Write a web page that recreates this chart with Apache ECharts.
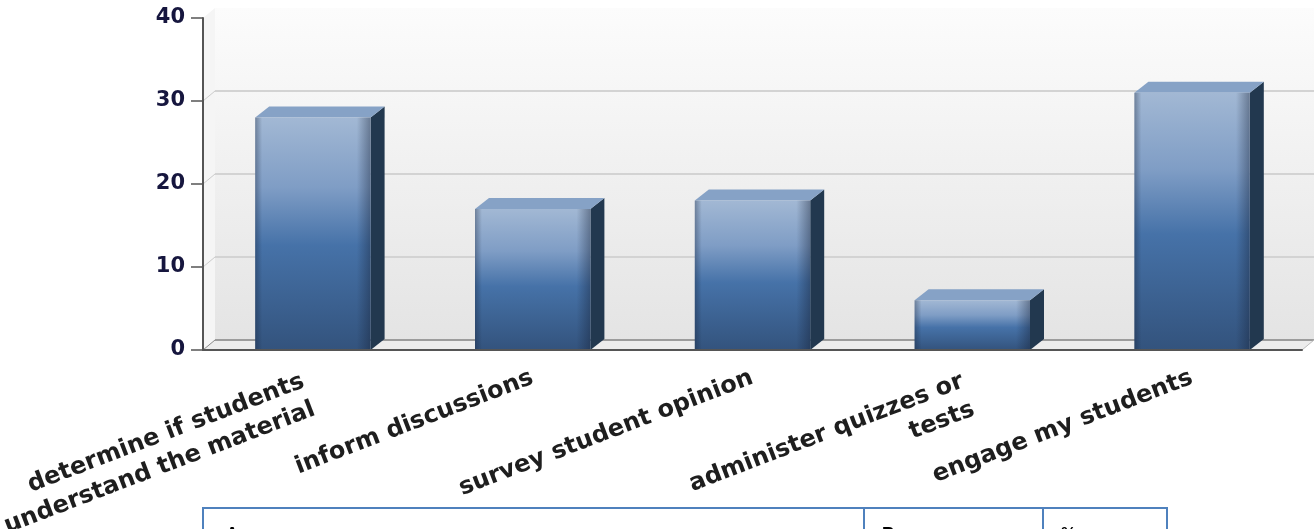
<!DOCTYPE html>
<html>
<head>
<meta charset="utf-8">
<script src="https://cdn.jsdelivr.net/npm/echarts@6/dist/echarts.min.js"></script>
<style>
  html, body { margin: 0; padding: 0; background: #fff; }
  #main { width: 1314px; height: 529px; }
</style>
</head>
<body>
<div id="main"></div>
<script>
// 数据
var categories = [
  'determine if students\nunderstand the material',
  'inform discussions',
  'survey student opinion',
  'administer quizzes or\ntests',
  'engage my students'
];
var values = [28, 17, 18, 6, 31];
var yTicks = [0, 10, 20, 30, 40];
var tableHeaders = ['Answer', 'Response', '%'];

var chart = echarts.init(document.getElementById('main'));

// 墙体的透视偏移
var WALL_DX = 12, WALL_DY = 10;
// 柱子的厚度
var BAR_DX = 14, BAR_DY = 11;

function renderWall(params, api) {
  var cs = params.coordSys;
  var v = api.value(1);
  var y = api.coord([0, v])[1];
  var x0 = cs.x, x1 = cs.x + cs.width, yt = cs.y, yb = cs.y + cs.height;
  var children = [];
  if (params.dataIndex === 0) {
    // 背板
    children.push({
      type: 'rect',
      shape: { x: x0 + WALL_DX, y: yt - WALL_DY, width: cs.width, height: cs.height },
      style: {
        fill: new echarts.graphic.LinearGradient(0, 0, 0, 1, [
          { offset: 0, color: '#fcfcfc' },
          { offset: 1, color: '#e4e4e4' }
        ])
      }
    });
    // 左墙
    children.push({
      type: 'polygon',
      shape: { points: [[x0, yt], [x0 + WALL_DX, yt - WALL_DY], [x0 + WALL_DX, yb - WALL_DY], [x0, yb]] },
      style: { fill: '#f5f5f5' }
    });
    // 地板
    children.push({
      type: 'polygon',
      shape: { points: [[x0, yb], [x0 + WALL_DX, yb - WALL_DY], [x1 + WALL_DX, yb - WALL_DY], [x1, yb]] },
      style: { fill: '#ececec' }
    });
    children.push({
      type: 'line',
      shape: { x1: x0 + WALL_DX, y1: yb - WALL_DY, x2: x1 + WALL_DX, y2: yb - WALL_DY },
      style: { stroke: '#9c9c9c', lineWidth: 2 }
    });
    children.push({
      type: 'line',
      shape: { x1: x0, y1: yb, x2: x0 + WALL_DX, y2: yb - WALL_DY },
      style: { stroke: '#888', lineWidth: 1 }
    });
    children.push({
      type: 'line',
      shape: { x1: x1, y1: yb, x2: x1 + WALL_DX, y2: yb - WALL_DY },
      style: { stroke: '#bbb', lineWidth: 1 }
    });
  } else if (v < yTicks[yTicks.length - 1]) {
    // 背板网格线
    children.push({
      type: 'line',
      shape: { x1: x0 + WALL_DX, y1: y - WALL_DY, x2: x1 + WALL_DX, y2: y - WALL_DY },
      style: { stroke: '#d3d3d3', lineWidth: 2 }
    });
    children.push({
      type: 'line',
      shape: { x1: x0, y1: y, x2: x0 + WALL_DX, y2: y - WALL_DY },
      style: { stroke: '#cccccc', lineWidth: 1 }
    });
  }
  return { type: 'group', children: children };
}

function renderBar(params, api) {
  var top = api.coord([api.value(0), api.value(1)]);
  var base = api.coord([api.value(0), 0]);
  var w = api.size([1, 0])[0] * 0.525;
  var x = top[0] - w / 2, y = top[1], yb = base[1], h = yb - y;
  return {
    type: 'group',
    children: [
      { // 侧面
        type: 'polygon',
        shape: { points: [[x + w, y], [x + w + BAR_DX, y - BAR_DY], [x + w + BAR_DX, yb - BAR_DY], [x + w, yb]] },
        style: { fill: '#22384f' }
      },
      { // 顶面
        type: 'polygon',
        shape: { points: [[x, y], [x + BAR_DX, y - BAR_DY], [x + w + BAR_DX, y - BAR_DY], [x + w, y]] },
        style: { fill: '#86a2c6' }
      },
      { // 正面
        type: 'rect',
        shape: { x: x, y: y, width: w, height: h },
        style: {
          fill: new echarts.graphic.LinearGradient(0, 0, 0, 1, [
            { offset: 0, color: '#a2b8d4' },
            { offset: 0.3, color: '#7f9dc5' },
            { offset: 0.55, color: '#4672a8' },
            { offset: 1, color: '#33537d' }
          ])
        }
      },
      { // 边缘阴影
        type: 'rect',
        shape: { x: x, y: y, width: w, height: h },
        style: {
          fill: new echarts.graphic.LinearGradient(0, 0, 1, 0, [
            { offset: 0, color: 'rgba(20,30,50,0.35)' },
            { offset: 0.06, color: 'rgba(20,30,50,0)' },
            { offset: 0.88, color: 'rgba(20,30,50,0)' },
            { offset: 1, color: 'rgba(20,30,50,0.4)' }
          ])
        }
      }
    ]
  };
}

var labelFont = { fontFamily: 'DejaVu Sans', fontWeight: 'bold', fontSize: 24, color: '#1e1e1e', lineHeight: 30 };

chart.setOption({
  animation: false,
  grid: { left: 203, right: 12, top: 18, bottom: 179, outerBoundsMode: 'none', containLabel: false },
  xAxis: {
    type: 'category',
    data: categories,
    z: 5,
    axisLine: { lineStyle: { color: '#555', width: 2 } },
    axisTick: { alignWithLabel: true, length: 8, lineStyle: { color: '#555', width: 1.5 } },
    axisLabel: Object.assign({
      interval: 0,
      rotate: 21,
      margin: 11,
      verticalAlign: 'top',
      formatter: function (v) {
        var lines = v.split('\n');
        var tag = lines.length === 1 ? 's' : 'm';
        return lines.map(function (l) { return '{' + tag + '|' + l + '}'; }).join('\n');
      },
      rich: {
        s: Object.assign({ align: 'right', padding: [0, 6, 0, 0] }, labelFont),
        m: Object.assign({ align: 'right', padding: [0, 16, 0, 0] }, labelFont)
      }
    }, labelFont)
  },
  yAxis: {
    type: 'value',
    min: 0,
    max: 40,
    interval: 10,
    z: 5,
    axisLine: { show: true, lineStyle: { color: '#555', width: 2 } },
    axisTick: { show: true, length: 12, lineStyle: { color: '#555', width: 1.5 } },
    splitLine: { show: false },
    axisLabel: {
      fontFamily: 'DejaVu Sans',
      fontWeight: 'bold',
      fontSize: 21,
      color: '#16163e',
      margin: 18
    }
  },
  series: [
    {
      type: 'custom',
      z: 1,
      renderItem: renderWall,
      encode: { x: 0, y: 1 },
      data: yTicks.map(function (v) { return [0, v]; })
    },
    {
      type: 'custom',
      z: 2,
      renderItem: renderBar,
      encode: { x: 0, y: 1 },
      data: values.map(function (v, i) { return [i, v]; })
    }
  ],
  graphic: [
    { type: 'rect', shape: { x: 203, y: 508, width: 964, height: 60 }, style: { fill: 'none', stroke: '#4f81bd', lineWidth: 2 } },
    { type: 'line', shape: { x1: 864, y1: 508, x2: 864, y2: 560 }, style: { stroke: '#4f81bd', lineWidth: 2 } },
    { type: 'line', shape: { x1: 1043, y1: 508, x2: 1043, y2: 560 }, style: { stroke: '#4f81bd', lineWidth: 2 } },
    { type: 'text', x: 226, y: 526, style: { text: tableHeaders[0], font: 'bold 17px "Liberation Sans"', fill: '#000' } },
    { type: 'text', x: 882, y: 526, style: { text: tableHeaders[1], font: 'bold 17px "Liberation Sans"', fill: '#000' } },
    { type: 'text', x: 1061, y: 526, style: { text: tableHeaders[2], font: 'bold 17px "Liberation Sans"', fill: '#000' } }
  ]
});
</script>
</body>
</html>
